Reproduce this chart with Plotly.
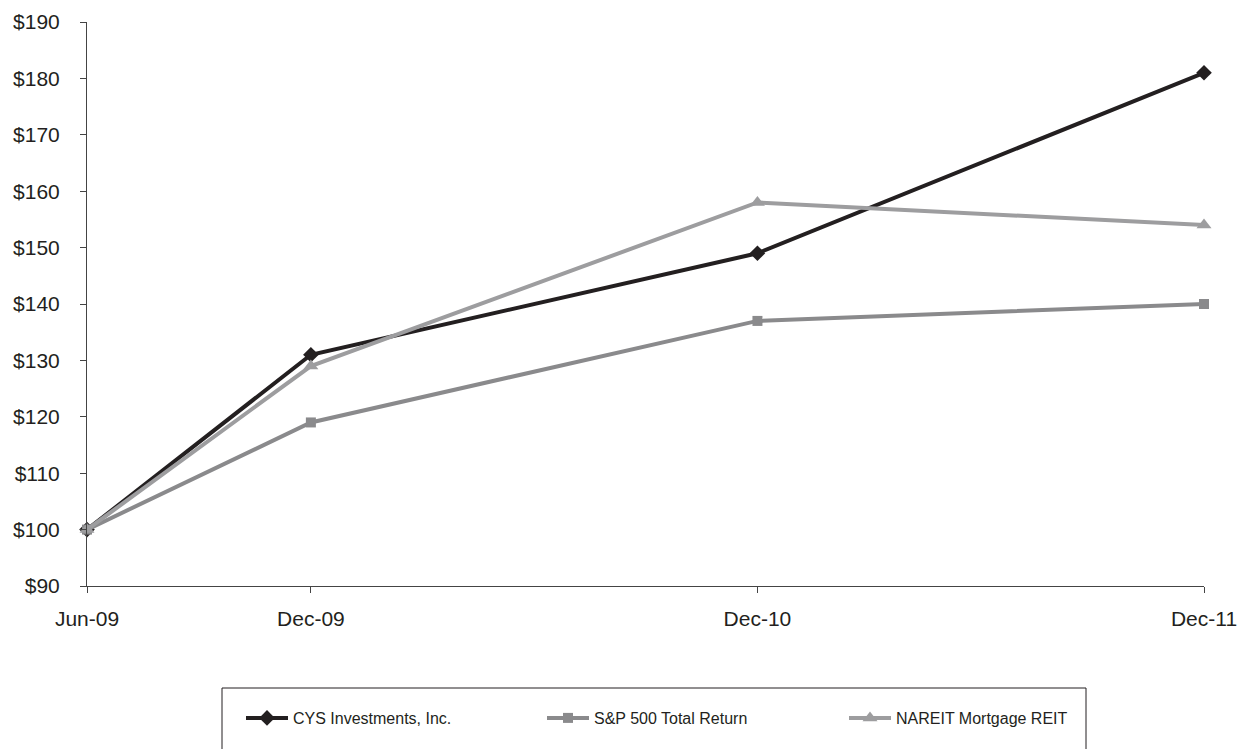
import plotly.graph_objects as go

dates = ["2009-06-01", "2009-12-01", "2010-12-01", "2011-12-01"]
tick_labels = ["Jun-09", "Dec-09", "Dec-10", "Dec-11"]
cys = [100, 131, 149, 181]
sp500 = [100, 119, 137, 140]
nareit = [100, 129, 158, 154]
y_ticks = list(range(90, 191, 10))
y_labels = [f"${v}" for v in y_ticks]

fig = go.Figure()
fig.add_trace(go.Scatter(x=dates, y=cys, name="CYS Investments, Inc.", mode="lines+markers",
                         line=dict(color="#231f20", width=4),
                         marker=dict(symbol="diamond", size=12, color="#231f20"),
                         legend="legend", cliponaxis=False))
fig.add_trace(go.Scatter(x=dates, y=sp500, name="S&P 500 Total Return", mode="lines+markers",
                         line=dict(color="#8a8a8c", width=4),
                         marker=dict(symbol="square", size=10, color="#8a8a8c"),
                         legend="legend2", cliponaxis=False))
fig.add_trace(go.Scatter(x=dates, y=nareit, name="NAREIT Mortgage REIT", mode="lines+markers",
                         line=dict(color="#9d9d9f", width=4),
                         marker=dict(symbol="triangle-up", size=13, color="#9d9d9f"),
                         legend="legend3", cliponaxis=False))

leg_common = dict(orientation="h", yanchor="middle", xanchor="left", y=(586 - 718) / 564,
                  font=dict(family="Liberation Sans, Arial", size=16, color="#231f20"),
                  bgcolor="rgba(0,0,0,0)", itemwidth=42)

fig.update_layout(
    width=1240, height=749,
    showlegend=True,
    margin=dict(l=87, r=36, t=22, b=163, autoexpand=False),
    paper_bgcolor="white", plot_bgcolor="white",
    font=dict(family="Liberation Sans, Arial", size=21, color="#231f20"),
    xaxis=dict(range=[dates[0], dates[-1]], tickvals=dates, ticktext=tick_labels,
               showgrid=False, zeroline=False, showline=True, linecolor="#444", linewidth=1,
               ticks="outside", ticklen=6, tickcolor="#444", tickfont=dict(size=21),
               ticklabelstandoff=8, automargin=False),
    yaxis=dict(range=[90, 190], tickvals=y_ticks, ticktext=y_labels,
               showgrid=False, zeroline=False, showline=True, linecolor="#444", linewidth=1,
               ticks="outside", ticklen=6, tickcolor="#444", tickfont=dict(size=21),
               ticklabelstandoff=16, automargin=False),
    legend=dict(x=(241 - 87) / 1117, **leg_common),
    legend2=dict(x=(542 - 87) / 1117, **leg_common),
    legend3=dict(x=(844 - 87) / 1117, **leg_common),
    shapes=[dict(type="rect", xref="paper", yref="paper",
                 x0=(222 - 87) / 1117, x1=(1086 - 87) / 1117,
                 y0=(586 - 760) / 564, y1=(586 - 688) / 564,
                 line=dict(color="#231f20", width=1), fillcolor="rgba(0,0,0,0)")],
)

fig.write_html("out.html", config={"displayModeBar": False},
               post_script="document.body.style.margin='0';document.body.style.overflow='hidden';")
